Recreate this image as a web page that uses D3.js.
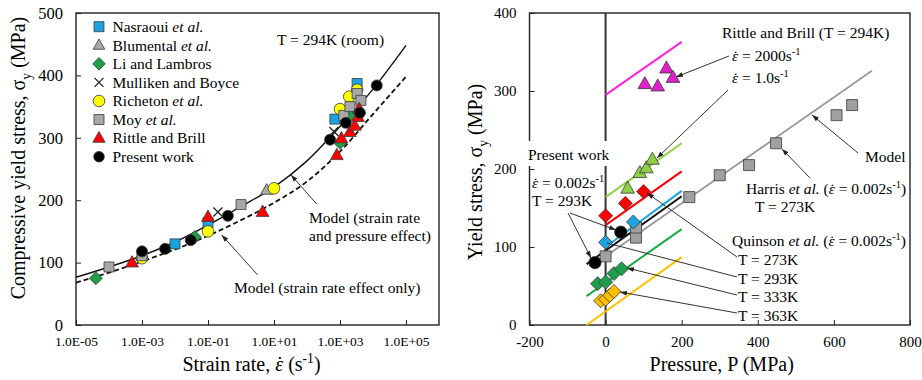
<!DOCTYPE html>
<html><head><meta charset="utf-8">
<script src="https://cdn.jsdelivr.net/npm/d3@7"></script>
<style>
body{margin:0;background:#fff}
svg, svg text, svg tspan{font-family:"Liberation Serif","Tinos","Times New Roman","DejaVu Serif",serif !important;fill:#000}
</style></head><body>
<svg id="c" width="922" height="380" font-family="Liberation Serif"></svg>
<script>
// ---------- DATA: left panel (strain rate s^-1, yield stress MPa) ----------
const leftTicksX = [1e-5, 1e-3, 1e-1, 1e1, 1e3, 1e5];
const leftTickLabelsX = ["1.0E-05", "1.0E-03", "1.0E-01", "1.0E+01", "1.0E+03", "1.0E+05"];
const leftTicksY = [0, 100, 200, 300, 400, 500];

const nasraoui  = [[1e-2,130],[0.1,164],[700,330],[3300,387]];
const blumental = [[1e-3,111],[6,216],[2000,340]];
const liLambros = [[4e-5,75],[0.04,141],[1000,292],[2000,336]];
const mulliken  = [[0.2,181],[650,310]];
const richeton  = [[1e-3,107],[0.1,150],[10,219],[1000,346],[1900,366],[3300,377]];
const moy       = [[1e-4,93],[1e-3,111],[1,193],[1300,336],[2000,350],[3300,371],[4300,360]];
const rittle    = [[5e-4,100],[0.1,173],[4.5,181],[800,272],[1100,299],[2000,309],[2800,319],[3500,333],[3800,346]];
const present   = [[1e-3,118],[5e-3,122],[0.03,136],[0.4,175],[500,297],[1500,324],[4000,340],[13000,384]];

const curveRate     = [1e-5,1e-4,1e-3,1e-2,1e-1,1,1e1,1e2,1e3,1e4,1e5];
const modelFull     = [76.5,93,111,133,160,190,221,263,318,378,448];
const modelRateOnly = [68,84,102,121,143,168,196,230,278,338,398];

const legendNames = [["Nasraoui ","et al."],["Blumental ","et al."],["Li and Lambros",""],["Mulliken and Boyce",""],
                     ["Richeton ","et al."],["Moy ","et al."],["Rittle and Brill",""],["Present work",""]];

// ---------- DATA: right panel (pressure MPa, yield stress MPa) ----------
const rightTicksX = [-200, 0, 200, 400, 600, 800];
const rightTicksY = [0, 100, 200, 300, 400];

const rb2000      = [[103,309],[137,306],[160,329],[177,317]];
const rb2000Line  = [[0,295],[200,363]];
const rb1         = [[58,175],[90,195],[107,201],[123,212]];
const rb1Line     = [[0,164],[200,233]];
const q273        = [[0,140],[52,156],[100,171]];
const q273Line    = [[0,128],[200,197]];
const q293        = [[0,106],[73,132]];
const q293Line    = [[0,100],[200,172]];
const q333        = [[-21,53],[0,55],[22,66],[42,72]];
const q333Line    = [[-50,37],[200,123]];
const q363        = [[-13,31],[0,33],[11,38],[22,43]];
const q363Line    = [[-50,0],[200,87]];
const presentR    = [[-28,80],[40,119]];
const presentLine = [[-50,78],[200,165]];
const harris      = [[0,88],[80,112],[80,125],[220,164],[300,192],[377,205],[448,233],[607,269],[648,282]];
const modelLine   = [[0,88],[700,326]];

// ---------- SCALES ----------
const FONT = "Liberation Serif, Tinos, Times New Roman, DejaVu Serif, serif";
const svg = d3.select("#c");
const xL = d3.scaleLog().domain([1e-5,1e6]).range([76,439]);
const yL = d3.scaleLinear().domain([0,500]).range([325,13]);
const xR = d3.scaleLinear().domain([-200,800]).range([529.5,910]);
const yR = d3.scaleLinear().domain([0,400]).range([325,13]);

const defs = svg.append("defs");
defs.append("marker").attr("id","ah").attr("viewBox","0 0 10 10").attr("refX",10).attr("refY",5)
  .attr("markerWidth",7).attr("markerHeight",7).attr("orient","auto-start-reverse").attr("markerUnits","userSpaceOnUse")
  .append("path").attr("d","M0,1.5 L10,5 L0,8.5 Z").attr("fill","#222");

// parts: "text" | [text, "i"|"sup"|"sub"|"edot"]
function rich(g, x, y, parts, size, anchor) {
  const t = g.append("text").attr("x",x).attr("y",y).attr("font-size",size)
    .attr("font-family",FONT).attr("text-anchor",anchor||"start");
  let shift = 0;
  parts.forEach(p => {
    const [txt, st] = typeof p === "string" ? [p,""] : p;
    let target = 0;
    if (st === "sup") target = -0.38*size;
    else if (st === "sub") target = 0.28*size;
    if (st === "edot") {
      const e = t.append("tspan").text("ε").attr("font-style","italic");
      if (shift !== 0) e.attr("dy", -shift);
      shift = 0;
      t.append("tspan").text("˙").attr("dx", -0.33*size);
      return;
    }
    const ts = t.append("tspan").text(txt);
    if (st === "sup" || st === "sub") ts.attr("font-size", size*0.68);
    if (st === "i") ts.attr("font-style","italic");
    if (target - shift !== 0) ts.attr("dy", target - shift);
    shift = target;
  });
  return t;
}

function shapePath(shape, cx, cy, s) {
  if (shape === "square") return `M${cx-s},${cy-s}h${2*s}v${2*s}h${-2*s}Z`;
  if (shape === "triangle") return `M${cx},${cy-s*1.2}L${cx+s*1.1},${cy+s*0.75}L${cx-s*1.1},${cy+s*0.75}Z`;
  if (shape === "diamond") return `M${cx},${cy-s}L${cx+s},${cy}L${cx},${cy+s}L${cx-s},${cy}Z`;
  if (shape === "x") return `M${cx-s},${cy-s}L${cx+s},${cy+s}M${cx+s},${cy-s}L${cx-s},${cy+s}`;
  return `M${cx+s},${cy}A${s},${s} 0 1,1 ${cx-s},${cy}A${s},${s} 0 1,1 ${cx+s},${cy}Z`;
}

function drawSeries(g, data, x, y, shape, s, fill) {
  g.append("g").selectAll("path").data(data).join("path")
    .attr("d", d => shapePath(shape, x(d[0]), y(d[1]), s))
    .attr("fill", shape === "x" ? "none" : fill)
    .attr("stroke", shape === "x" ? "#222" : "#3a3a3a")
    .attr("stroke-width", shape === "x" ? 1.3 : 0.8);
}

function frame(g, x, y, xt, xfmt, yt, xfs, yfs) {
  const [x0,x1] = x.range(), [y0,y1] = y.range();
  const ax = g.append("g").attr("transform",`translate(0,${y0})`)
    .call(d3.axisBottom(x).tickValues(xt).tickFormat(xfmt).tickSizeInner(-5).tickSizeOuter(0).tickPadding(11));
  ax.attr("font-family", FONT);
  ax.select(".domain").remove();
  ax.selectAll("text").attr("font-size", xfs).attr("font-family",FONT).attr("fill","#000");
  ax.selectAll("line").attr("stroke","#222");
  const ay = g.append("g").attr("transform",`translate(${x0},0)`)
    .call(d3.axisLeft(y).tickValues(yt).tickSizeInner(-5).tickSizeOuter(0).tickPadding(13));
  ay.attr("font-family", FONT);
  ay.select(".domain").remove();
  ay.selectAll("text").attr("font-size", yfs).attr("font-family",FONT).attr("fill","#000");
  ay.selectAll("line").attr("stroke","#222");
  g.append("rect").attr("x",x0).attr("y",y1).attr("width",x1-x0).attr("height",y0-y1)
    .attr("fill","none").attr("stroke","#222").attr("stroke-width",1.4);
}

function arrow(g, x1, y1, x2, y2, head) {
  const l = g.append("line").attr("x1",x1).attr("y1",y1).attr("x2",x2).attr("y2",y2)
    .attr("stroke","#333").attr("stroke-width",1);
  if (head !== false) l.attr("marker-end","url(#ah)");
}

// ================= LEFT PANEL =================
const L = svg.append("g");
frame(L, xL, yL, leftTicksX, (d,i) => leftTickLabelsX[i], leftTicksY, 13.5, 16.5);

const lineL = d3.line().x(d => xL(d[0])).y(d => yL(d[1])).curve(d3.curveMonotoneX);
L.append("path").attr("d", lineL(curveRate.map((r,i)=>[r,modelFull[i]])))
  .attr("fill","none").attr("stroke","#111").attr("stroke-width",1.4);
L.append("path").attr("d", lineL(curveRate.map((r,i)=>[r,modelRateOnly[i]])))
  .attr("fill","none").attr("stroke","#111").attr("stroke-width",1.8).attr("stroke-dasharray","5,3");

const C_BLUE = "#1aa3e0", C_GRAY = "#a8a8a8", C_GREEN = "#1f9e4a", C_YEL = "#ffff00", C_RED = "#ff0000";
drawSeries(L, nasraoui, xL, yL, "square", 5, C_BLUE);
drawSeries(L, blumental, xL, yL, "triangle", 5.5, C_GRAY);
drawSeries(L, liLambros, xL, yL, "diamond", 6.5, C_GREEN);
drawSeries(L, mulliken, xL, yL, "x", 4.5, "none");
drawSeries(L, richeton, xL, yL, "circle", 5.8, C_YEL);
drawSeries(L, moy, xL, yL, "square", 5, C_GRAY);
drawSeries(L, rittle, xL, yL, "triangle", 5.8, C_RED);
drawSeries(L, present, xL, yL, "circle", 5.5, "#000");

// legend
const legShapes = [["square",C_BLUE,5],["triangle",C_GRAY,5.3],["diamond",C_GREEN,6.3],["x","none",4.5],
                   ["circle",C_YEL,5.8],["square",C_GRAY,5],["triangle",C_RED,5.6],["circle","#000",5.3]];
legendNames.forEach((n,i) => {
  const cy = 26.7 + i*18.57;
  const [sh, col, s] = legShapes[i];
  L.append("path").attr("d", shapePath(sh, 99, cy, s))
    .attr("fill", sh === "x" ? "none" : col)
    .attr("stroke", sh === "x" ? "#222" : "#3a3a3a").attr("stroke-width", sh === "x" ? 1.3 : 0.8);
  const parts = n[1] ? [n[0], [n[1], "i"]] : [n[0]];
  rich(L, 112.5, cy + 5.3, parts, 15.5);
});

rich(L, 277, 44.5, ["T = 294K (room)"], 15.5);
rich(L, 309, 222.5, ["Model (strain rate"], 15.5);
rich(L, 309, 241, ["and pressure effect)"], 15.5);
rich(L, 234, 292.5, ["Model (strain rate effect only)"], 15.5);
arrow(L, 316.7, 204, 291, 175);
arrow(L, 257.7, 275, 221.7, 235);

rich(L, 0, 0, ["Compressive yield stress, σ", ["y","sub"], " (MPa)"], 20, "middle")
  .attr("transform","translate(25,158) rotate(-90)");
rich(L, 251.5, 371, ["Strain rate, ", ["","edot"], " (s", ["-1","sup"], ")"], 20, "middle");

// ================= RIGHT PANEL =================
const R = svg.append("g");
frame(R, xR, yR, rightTicksX, d => d, rightTicksY, 15, 15);

// vertical line at P = 0
R.append("line").attr("x1",xR(0)).attr("x2",xR(0)).attr("y1",yR(400)).attr("y2",yR(0))
  .attr("stroke","#333").attr("stroke-width",2);

const lineR = d3.line().x(d => xR(d[0])).y(d => yR(d[1]));
function seg(data, col, w) {
  R.append("path").attr("d", lineR(data)).attr("fill","none").attr("stroke",col).attr("stroke-width",w);
}
const C_MAG = "#ff22d8", C_LGREEN = "#8fcf45", C_ORANGE = "#ffc000", C_GREEN2 = "#1aaa48";
seg(modelLine, "#9a9a9a", 1.8);
seg(rb2000Line, C_MAG, 2);
seg(rb1Line, C_LGREEN, 2);
seg(q273Line, C_RED, 2);
seg(q293Line, C_BLUE, 2);
seg(presentLine, "#111", 2);
seg(q333Line, C_GREEN2, 2);
seg(q363Line, C_ORANGE, 2);

drawSeries(R, harris, xR, yR, "square", 5.5, "#a0a0a0");
drawSeries(R, rb2000, xR, yR, "triangle", 6.2, "#e020c8");
drawSeries(R, rb1, xR, yR, "triangle", 6.2, C_LGREEN);
drawSeries(R, q273, xR, yR, "diamond", 7, C_RED);
drawSeries(R, q293, xR, yR, "diamond", 7, C_BLUE);
drawSeries(R, q333, xR, yR, "diamond", 7, C_GREEN);
drawSeries(R, q363, xR, yR, "diamond", 7, C_ORANGE);
drawSeries(R, presentR, xR, yR, "circle", 6.2, "#000");

// annotations
R.append("rect").attr("x",526).attr("y",141).attr("width",84).attr("height",25).attr("fill","#fff");
rich(R, 528, 159.5, ["Present work"], 15.5);
rich(R, 532, 188, [["","edot"], " = 0.002s", ["-1","sup"]], 15.5);
rich(R, 532, 205.5, ["T = 293K"], 15.5);
arrow(R, 568, 213, 591, 258);
arrow(R, 570, 213, 616, 230);

rich(R, 722, 37.5, ["Rittle and Brill (T = 294K)"], 15.5);
rich(R, 732, 60.5, [["","edot"], " = 2000s", ["-1","sup"]], 15.5);
rich(R, 732, 83, [["","edot"], " = 1.0s", ["-1","sup"]], 15.5);
arrow(R, 729, 56, 676, 77);
arrow(R, 728, 90, 657, 158);

rich(R, 865, 161.5, ["Model"], 15.5);
arrow(R, 858, 153, 812, 115);
rich(R, 746, 193.5, ["Harris ", ["et al.","i"], " (", ["","edot"], " = 0.002s", ["-1","sup"], ")"], 15.5);
rich(R, 755, 212, ["T = 273K"], 15.5);
arrow(R, 810, 178, 782, 149);

rich(R, 732, 246, ["Quinson ", ["et al.","i"], " (", ["","edot"], " = 0.002s", ["-1","sup"], ")"], 15.5);
rich(R, 738, 265, ["T = 273K"], 15.5);
rich(R, 738, 283.5, ["T = 293K"], 15.5);
rich(R, 738, 302, ["T = 333K"], 15.5);
rich(R, 738, 320.5, ["T = 363K"], 15.5);
arrow(R, 737, 257, 647, 193);
arrow(R, 737, 277, 607, 243, false);
arrow(R, 737, 295, 627, 268);
arrow(R, 737, 313, 620, 292);

rich(R, 0, 0, ["Yield stress, σ", ["y","sub"], " (MPa)"], 20, "middle")
  .attr("transform","translate(482,172) rotate(-90)");
rich(R, 721.7, 371, ["Pressure, P (MPa)"], 20, "middle");
</script></body></html>
